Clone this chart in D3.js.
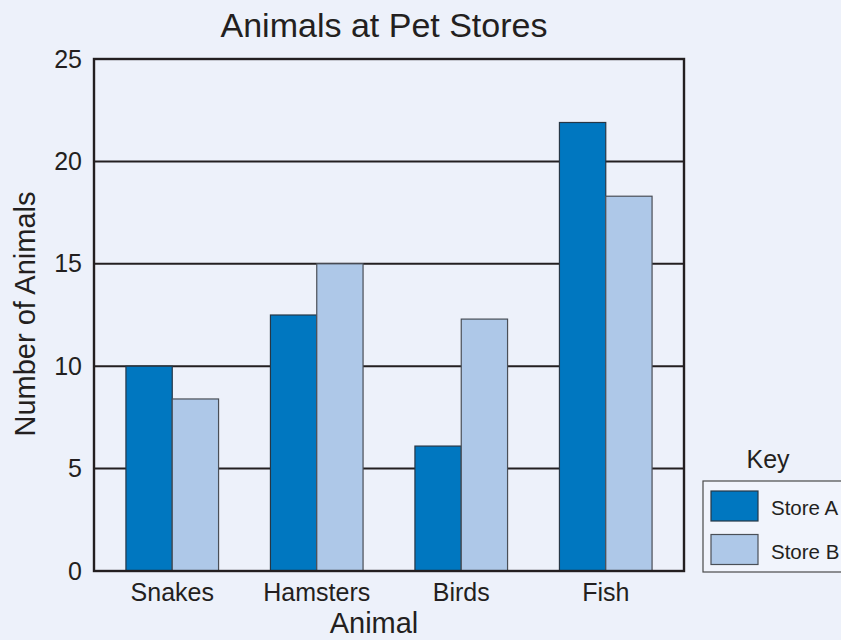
<!DOCTYPE html>
<html>
<head>
<meta charset="utf-8">
<script src="https://cdn.jsdelivr.net/npm/d3@7"></script>
<style>
  html, body { margin: 0; padding: 0; background: #edf1fa; }
  svg { display: block; font-family: "Liberation Sans", Arial, Helvetica, sans-serif; }
</style>
</head>
<body>
<svg id="chart" width="841" height="640"></svg>
<script>
// Data
const animals = ["Snakes", "Hamsters", "Birds", "Fish"];
const stores = ["Store A", "Store B"];
const storeA = [10, 12.5, 6.1, 21.9];
const storeB = [8.4, 15, 12.3, 18.3];
const yTicks = [0, 5, 10, 15, 20, 25];
const storeColors = ["#0077c0", "#aec8e8"];

const rows = animals.map((a, i) => ({ animal: a, values: [storeA[i], storeB[i]] }));

const W = 841, H = 640;
const plot = { left: 94, right: 684, top: 59, bottom: 571 };
const ink = "#231f20";

const svg = d3.select("#chart");
svg.append("rect").attr("width", W).attr("height", H).attr("fill", "#edf1fa");

const x0 = d3.scaleBand()
  .domain(animals)
  .range([plot.left, plot.right])
  .paddingInner(0.359)
  .paddingOuter(0.221);

const x1 = d3.scaleBand()
  .domain(stores)
  .range([0, x0.bandwidth()]);

const y = d3.scaleLinear()
  .domain([0, 25])
  .range([plot.bottom, plot.top]);

// Horizontal gridlines
svg.append("g")
  .selectAll("line")
  .data(yTicks.filter(t => t > 0 && t < 25))
  .join("line")
  .attr("x1", plot.left).attr("x2", plot.right)
  .attr("y1", d => y(d)).attr("y2", d => y(d))
  .attr("stroke", ink).attr("stroke-width", 2);

// Bars
const groups = svg.append("g")
  .selectAll("g")
  .data(rows)
  .join("g")
  .attr("transform", d => `translate(${x0(d.animal)},0)`);

groups.selectAll("rect")
  .data(d => d.values.map((v, i) => ({ store: stores[i], value: v, idx: i })))
  .join("rect")
  .attr("x", d => x1(d.store))
  .attr("y", d => y(d.value))
  .attr("width", x1.bandwidth())
  .attr("height", d => y(0) - y(d.value))
  .attr("fill", d => storeColors[d.idx])
  .attr("stroke", d => d.idx === 0 ? "#263746" : "#4a4f57")
  .attr("stroke-width", 1.2);

// Plot frame
svg.append("rect")
  .attr("x", plot.left).attr("y", plot.top)
  .attr("width", plot.right - plot.left)
  .attr("height", plot.bottom - plot.top)
  .attr("fill", "none")
  .attr("stroke", ink)
  .attr("stroke-width", 2.4);

// Y axis labels
const yAxis = svg.append("g")
  .attr("transform", `translate(${plot.left},0)`)
  .call(d3.axisLeft(y).tickValues(yTicks).tickSize(0).tickPadding(12));
yAxis.select(".domain").remove();
yAxis.selectAll("text")
  .attr("font-size", 25)
  .attr("font-family", "'Liberation Sans', Arial, sans-serif")
  .attr("fill", ink);

// X axis labels
const xAxis = svg.append("g")
  .attr("transform", `translate(0,${plot.bottom})`)
  .call(d3.axisBottom(x0).tickSize(0).tickPadding(12));
xAxis.select(".domain").remove();
xAxis.selectAll("text")
  .attr("font-size", 25)
  .attr("font-family", "'Liberation Sans', Arial, sans-serif")
  .attr("fill", ink);

// Titles
svg.append("text")
  .attr("x", 384).attr("y", 37)
  .attr("text-anchor", "middle")
  .attr("font-size", 34)
  .attr("fill", ink)
  .text("Animals at Pet Stores");

svg.append("text")
  .attr("x", 374).attr("y", 633)
  .attr("text-anchor", "middle")
  .attr("font-size", 29)
  .attr("fill", ink)
  .text("Animal");

svg.append("text")
  .attr("transform", "translate(35,314) rotate(-90)")
  .attr("text-anchor", "middle")
  .attr("font-size", 29)
  .attr("fill", ink)
  .text("Number of Animals");

// Legend
const legend = svg.append("g");
legend.append("text")
  .attr("x", 768).attr("y", 468)
  .attr("text-anchor", "middle")
  .attr("font-size", 25)
  .attr("fill", ink)
  .text("Key");

legend.append("rect")
  .attr("x", 703).attr("y", 481)
  .attr("width", 160).attr("height", 91)
  .attr("fill", "#f1f4fc")
  .attr("stroke", "#4a4a4a")
  .attr("stroke-width", 1.2);

const items = legend.selectAll("g.item")
  .data(stores)
  .join("g")
  .attr("class", "item")
  .attr("transform", (d, i) => `translate(711,${491 + i * 43.5})`);

items.append("rect")
  .attr("width", 47).attr("height", 30)
  .attr("fill", (d, i) => storeColors[i])
  .attr("stroke", (d, i) => i === 0 ? "#263746" : "#4a4f57")
  .attr("stroke-width", 1.2);

items.append("text")
  .attr("x", 60).attr("y", 24)
  .attr("font-size", 20.5)
  .attr("fill", ink)
  .text(d => d);
</script>
</body>
</html>
